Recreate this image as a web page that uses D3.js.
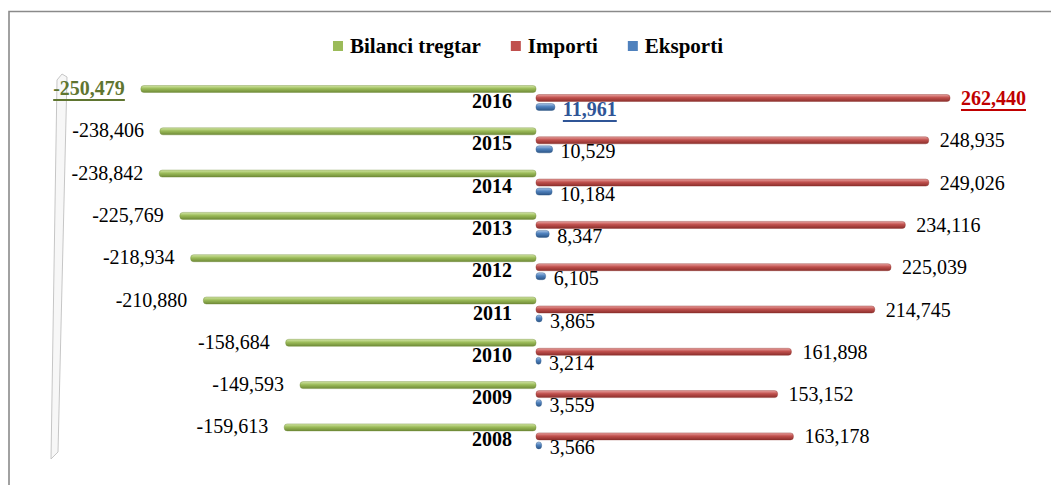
<!DOCTYPE html>
<html>
<head>
<meta charset="utf-8">
<script src="https://cdn.jsdelivr.net/npm/d3@7"></script>
<style>
  html, body { margin: 0; padding: 0; background: #fff; }
  svg text { font-family: "Liberation Serif", "Times New Roman", serif; }
</style>
</head>
<body>
<div id="chart"></div>
<script>
// données
const years = [2016, 2015, 2014, 2013, 2012, 2011, 2010, 2009, 2008];
const bilanci = [-250479, -238406, -238842, -225769, -218934, -210880, -158684, -149593, -159613];
const importi = [262440, 248935, 249026, 234116, 225039, 214745, 161898, 153152, 163178];
const eksporti = [11961, 10529, 10184, 8347, 6105, 3865, 3214, 3559, 3566];
const seriesNames = ["Bilanci tregtar", "Importi", "Eksporti"];
const seriesColors = ["#9BBB59", "#C0504D", "#4F81BD"];

const width = 1051, height = 485;
// trait d'union simple comme signe moins
const fmt = d3.formatLocale({ decimal: ".", thousands: ",", grouping: [3], currency: ["", ""], minus: "-" }).format(",");

const svg = d3.select("#chart").append("svg")
    .attr("width", width)
    .attr("height", height);

// dégradés pour l'effet 3D des barres
const defs = svg.append("defs");
const shades = [
    ["#d3e6a6", "#9BBB59", "#6f8a37"],
    ["#eaa3a1", "#C0504D", "#8c2f2c"],
    ["#a9c4e6", "#4F81BD", "#2c5586"]
];
shades.forEach((s, i) => {
    const g = defs.append("linearGradient")
        .attr("id", "grad" + i)
        .attr("x1", 0).attr("y1", 0).attr("x2", 0).attr("y2", 1);
    g.append("stop").attr("offset", "0%").attr("stop-color", s[0]);
    g.append("stop").attr("offset", "45%").attr("stop-color", s[1]);
    g.append("stop").attr("offset", "100%").attr("stop-color", s[2]);
});

// cadre
svg.append("path")
    .attr("d", `M9,${height} L9,11.5 L${width},11.5`)
    .attr("fill", "none")
    .attr("stroke", "#8a8a8a")
    .attr("stroke-width", 1.6);

// paroi 3D à gauche
svg.append("path")
    .attr("d", "M57,80 L62,74 L67,77 L58,452 L51,459 Z")
    .attr("fill", "#f7f7f7")
    .attr("stroke", "#c6c6c6")
    .attr("stroke-width", 1);

// échelles
const x = d3.scaleLinear()
    .domain([-280000, 280000])
    .range([536 - 441.7, 536 + 441.7]);

const y = d3.scaleBand()
    .domain(years)
    .range([68, 68 + 9 * 42.3]);

const sub = d3.scalePoint()
    .domain(seriesNames)
    .range([21, 39]);

const barH = 7;
const rows = years.map((yr, i) => ({
    year: yr,
    values: [bilanci[i], importi[i], eksporti[i]],
    top: i === 0
}));

const rowG = svg.append("g").selectAll("g")
    .data(rows)
    .join("g")
    .attr("transform", d => `translate(0,${y(d.year)})`);

// barres
seriesNames.forEach((name, si) => {
    rowG.append("rect")
        .attr("x", d => Math.min(x(0), x(d.values[si])))
        .attr("y", sub(name) - barH / 2)
        .attr("width", d => Math.abs(x(d.values[si]) - x(0)))
        .attr("height", barH)
        .attr("rx", 3)
        .attr("fill", `url(#grad${si})`)
        .attr("stroke", shades[si][2])
        .attr("stroke-width", 0.4);
});

// années
rowG.append("text")
    .attr("x", x(0) - 24)
    .attr("y", sub(seriesNames[0]) + 12)
    .attr("text-anchor", "end")
    .attr("dominant-baseline", "central")
    .attr("font-size", 20)
    .attr("font-weight", "bold")
    .attr("fill", "#000")
    .text(d => d.year);

// étiquettes Bilanci
rowG.append("text")
    .attr("x", d => x(d.values[0]) - 16)
    .attr("y", sub(seriesNames[0]) - 1)
    .attr("text-anchor", "end")
    .attr("dominant-baseline", "central")
    .attr("font-size", 20)
    .attr("font-weight", d => d.top ? "bold" : "normal")
    .attr("text-decoration", d => d.top ? "underline" : null)
    .attr("fill", d => d.top ? "#5F7530" : "#000")
    .text(d => fmt(d.values[0]));

// étiquettes Importi
rowG.append("text")
    .attr("x", d => x(d.values[1]) + 11)
    .attr("y", sub(seriesNames[1]))
    .attr("dominant-baseline", "central")
    .attr("font-size", 20)
    .attr("font-weight", d => d.top ? "bold" : "normal")
    .attr("text-decoration", d => d.top ? "underline" : null)
    .attr("fill", d => d.top ? "#C00000" : "#000")
    .text(d => fmt(d.values[1]));

// étiquettes Eksporti
rowG.append("text")
    .attr("x", d => x(d.values[2]) + 8)
    .attr("y", sub(seriesNames[2]) + 2)
    .attr("dominant-baseline", "central")
    .attr("font-size", 20)
    .attr("font-weight", d => d.top ? "bold" : "normal")
    .attr("text-decoration", d => d.top ? "underline" : null)
    .attr("fill", d => d.top ? "#2F5597" : "#000")
    .text(d => fmt(d.values[2]));

// légende
const legend = svg.append("g").attr("transform", "translate(0,46)");
const items = legend.selectAll("g")
    .data(seriesNames)
    .join("g");
items.append("rect")
    .attr("x", 0).attr("y", -5)
    .attr("width", 10).attr("height", 10)
    .attr("fill", (d, i) => seriesColors[i]);
items.append("text")
    .attr("x", 17)
    .attr("dominant-baseline", "central")
    .attr("font-size", 21)
    .attr("font-weight", "bold")
    .attr("fill", "#000")
    .text(d => d);

let cursor = 0;
const gap = 30;
const offsets = [];
items.each(function () {
    offsets.push(cursor);
    cursor += 17 + d3.select(this).select("text").node().getComputedTextLength() + gap;
});
const total = cursor - gap;
const start = 528 - total / 2;
items.attr("transform", (d, i) => `translate(${start + offsets[i]},0)`);
</script>
</body>
</html>
